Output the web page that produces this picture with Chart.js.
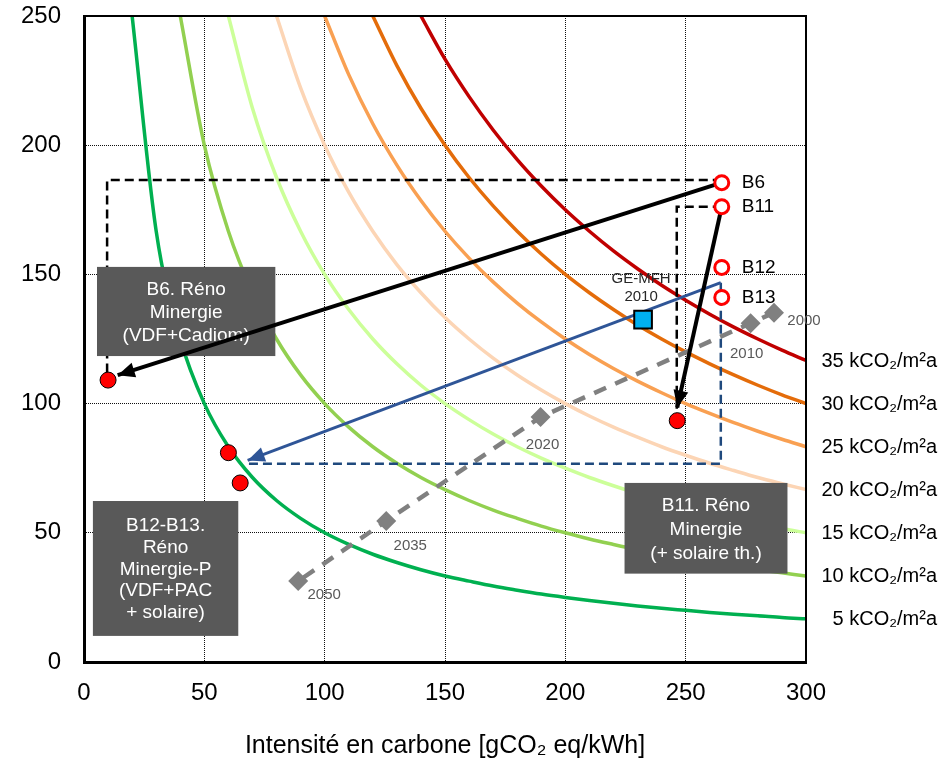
<!DOCTYPE html>
<html>
<head>
<meta charset="utf-8">
<script src="https://cdn.jsdelivr.net/npm/chart.js@4.4.0/dist/chart.umd.min.js"></script>
<style>
  html, body { margin: 0; padding: 0; background: #fff; }
  #wrap { width: 947px; height: 761px; }
</style>
</head>
<body>
<div id="wrap"><canvas id="carbonChart" width="947" height="761"></canvas></div>
<script>
// Isolignes kCO2/m2a (chaque série finit à x = 300)
const isoLevels = [5, 10, 15, 20, 25, 30, 35];
const isoX = [10, 20, 30, 40, 50, 60, 70, 80, 90, 100, 110, 120, 130, 140, 150,
              160, 170, 180, 190, 200, 210, 220, 230, 240, 250, 260, 270, 280, 290, 300];
const iso5 = [250, 166.7, 125, 100, 83.3, 71.4, 62.5, 55.6, 50, 45.5, 41.7, 38.5, 35.7, 33.3, 31.3,
              29.4, 27.8, 26.3, 25, 23.8, 22.7, 21.7, 20.8, 20, 19.2, 18.5, 17.9, 17.2, 16.7];
const iso10 = [250, 200, 166.7, 142.9, 125, 111.1, 100, 90.9, 83.3, 76.9, 71.4, 66.7, 62.5, 58.8,
               55.6, 52.6, 50, 47.6, 45.5, 43.5, 41.7, 40, 38.5, 37, 35.7, 34.5, 33.3];
const iso15 = [250, 214.3, 187.5, 166.7, 150, 136.4, 125, 115.4, 107.1, 100, 93.8, 88.2, 83.3,
               78.9, 75, 71.4, 68.2, 65.2, 62.5, 60, 57.7, 55.6, 53.6, 51.7, 50];
const iso20 = [250, 222.2, 200, 181.8, 166.7, 153.8, 142.9, 133.3, 125, 117.6, 111.1, 105.3, 100,
               95.2, 90.9, 87, 83.3, 80, 76.9, 74.1, 71.4, 69, 66.7];
const iso25 = [250, 227.3, 208.3, 192.3, 178.6, 166.7, 156.3, 147.1, 138.9, 131.6, 125, 119,
               113.6, 108.7, 104.2, 100, 96.2, 92.6, 89.3, 86.2, 83.3];
const iso30 = [250, 230.8, 214.3, 200, 187.5, 176.5, 166.7, 157.9, 150, 142.9, 136.4, 130.4, 125,
               120, 115.4, 111.1, 107.1, 103.4, 100];
const iso35 = [250, 233.3, 218.8, 205.9, 194.4, 184.2, 175, 166.7, 159.1, 152.2, 145.8, 140, 134.6,
               129.6, 125, 120.7, 116.7];
const isoCurves = [iso5, iso10, iso15, iso20, iso25, iso30, iso35];
const isoColors = ['#00b050', '#92d050', '#ccff99', '#fcd5b5', '#f9a052', '#e46c0a', '#c00000'];

// Bâtiments (état initial)
const bLabels = ['B6', 'B11', 'B12', 'B13'];
const bX = [265, 265, 265, 265];
const bY = [185.5, 176.2, 152.7, 141.1];

// Après rénovation
const renoX = [10, 246.5, 60, 64.9];
const renoY = [109.1, 93.4, 81, 69.3];

// GE-MFH 2010
const geX = [232.3];
const geY = [132.5];

// Trajectoire du mix électrique
const years = ['2000', '2010', '2020', '2035', '2050'];
const yearX = [286.7, 277, 189.7, 125.6, 89];
const yearY = [135.2, 131.1, 94.8, 54.6, 31.3];

// Guides pointillés et flèches (x, y)
const b6GuideX = [265, 9.6, 9.6];
const b6GuideY = [186.5, 186.5, 112];
const b11GuideX = [265, 246.3, 246.3];
const b11GuideY = [176.2, 176.2, 97.5];
const b12GuideX = [264.6, 264.6, 68];
const b12GuideY = [146.8, 76.7, 76.7];
const arrowB6 = [[265, 185.5], [14, 111]];
const arrowB11 = [[265, 176.2], [246.5, 98.5]];
const arrowB12 = [[264.6, 146.8], [68, 78]];

const yearLabelOffsets = [[30, 8], [-4, 31], [2, 28], [24, 25], [26, 14]];

const noteBoxes = [
    { x0: 5.4, x1: 79.5, y0: 152.9, y1: 118.4, lh: 23,
      lines: ['B6. Réno', 'Minergie', '(VDF+Cadiom)'] },
    { x0: 3.7, x1: 64.1, y0: 62.3, y1: 10.1, lh: 21.7,
      lines: ['B12-B13.', 'Réno', 'Minergie-P', '(VDF+PAC', '+ solaire)'] },
    { x0: 224.6, x1: 292.3, y0: 69.3, y1: 34.2, lh: 24,
      lines: ['B11. Réno', 'Minergie', '(+ solaire th.)'] }
];

const FAMILY = "'Liberation Sans', Arial, sans-serif";
const font = (size) => size + 'px ' + FAMILY;
const pts = (xs, ys) => xs.map((x, i) => ({ x: x, y: ys[i] }));

const datasets = [];
const isoIdx = [];
isoCurves.forEach((ys, i) => {
    const xs = isoX.slice(isoX.length - ys.length);
    isoIdx.push(datasets.length);
    datasets.push({
        data: pts(xs, ys), showLine: true, borderColor: isoColors[i], borderWidth: 3.5,
        pointRadius: 0, cubicInterpolationMode: 'monotone', order: 7
    });
});

const idxYears = datasets.length;
datasets.push({
    data: pts(yearX, yearY), showLine: true, borderColor: '#808080', borderWidth: 4.5,
    borderDash: [13, 10], pointStyle: 'rectRot', pointRadius: 10,
    pointBackgroundColor: '#808080', pointBorderWidth: 0, order: 6
});

[[b6GuideX, b6GuideY, '#000'], [b11GuideX, b11GuideY, '#000'], [b12GuideX, b12GuideY, '#1f497d']]
    .forEach(g => datasets.push({
        data: pts(g[0], g[1]), showLine: true, borderColor: g[2], borderWidth: 2.5,
        borderDash: [9, 5], pointRadius: 0, order: 5
    }));

[[arrowB6, '#000', 4], [arrowB11, '#000', 4], [arrowB12, '#2f5597', 3]]
    .forEach(a => datasets.push({
        data: a[0].map(p => ({ x: p[0], y: p[1] })), showLine: true, borderColor: a[1],
        borderWidth: a[2], pointRadius: 0, isArrow: true, order: 3
    }));

const idxGe = datasets.length;
datasets.push({
    data: pts(geX, geY), pointStyle: 'rect', pointRadius: 12.5,
    pointBackgroundColor: '#00b0f0', pointBorderColor: '#000', pointBorderWidth: 2, order: 2
});

datasets.push({
    data: pts(renoX, renoY), pointStyle: 'circle', pointRadius: 8,
    pointBackgroundColor: '#ff0000', pointBorderColor: '#000', pointBorderWidth: 1, order: 1
});

const idxB = datasets.length;
datasets.push({
    data: pts(bX, bY), pointStyle: 'circle', pointRadius: 7,
    pointBackgroundColor: '#fff', pointBorderColor: '#ff0000', pointBorderWidth: 3, order: 0
});

function drawNotes(chart) {
    const { ctx, scales: { x, y } } = chart;
    ctx.save();
    noteBoxes.forEach(b => {
        const left = x.getPixelForValue(b.x0), right = x.getPixelForValue(b.x1);
        const top = y.getPixelForValue(b.y0), bottom = y.getPixelForValue(b.y1);
        ctx.fillStyle = '#595959';
        ctx.fillRect(left, top, right - left, bottom - top);
        ctx.fillStyle = '#fff';
        ctx.font = font(19);
        ctx.textAlign = 'center';
        ctx.textBaseline = 'middle';
        const cx = (left + right) / 2, cy = (top + bottom) / 2 + 1;
        b.lines.forEach((t, i) => ctx.fillText(t, cx, cy + (i - (b.lines.length - 1) / 2) * b.lh));
    });
    ctx.restore();
}

function drawArrowHead(ctx, meta, color) {
    const p = meta.data;
    const a = p[p.length - 2], b = p[p.length - 1];
    const ang = Math.atan2(b.y - a.y, b.x - a.x);
    const len = 17, half = 7.5;
    const bx = b.x - len * Math.cos(ang), by = b.y - len * Math.sin(ang);
    ctx.save();
    ctx.fillStyle = color;
    ctx.beginPath();
    ctx.moveTo(b.x, b.y);
    ctx.lineTo(bx + half * Math.sin(ang), by - half * Math.cos(ang));
    ctx.lineTo(bx - half * Math.sin(ang), by + half * Math.cos(ang));
    ctx.closePath();
    ctx.fill();
    ctx.restore();
}

const overlayPlugin = {
    id: 'overlay',
    beforeDatasetsDraw(chart) { chart.$notesDrawn = false; },
    beforeDatasetDraw(chart, args) {
        const ds = chart.data.datasets[args.index];
        if (ds.isArrow && !chart.$notesDrawn) {
            drawNotes(chart);
            chart.$notesDrawn = true;
        }
    },
    afterDatasetDraw(chart, args) {
        const ds = chart.data.datasets[args.index];
        if (ds.isArrow) drawArrowHead(chart.ctx, args.meta, ds.borderColor);
    },
    afterDatasetsDraw(chart) {
        const { ctx, chartArea: a } = chart;
        ctx.save();
        // cadre haut et droite
        ctx.strokeStyle = '#000';
        ctx.lineWidth = 2;
        ctx.beginPath();
        ctx.moveTo(a.left, a.top);
        ctx.lineTo(a.right, a.top);
        ctx.lineTo(a.right, a.bottom);
        ctx.stroke();

        // étiquettes des isolignes
        ctx.fillStyle = '#000';
        ctx.font = font(20);
        ctx.textAlign = 'right';
        ctx.textBaseline = 'middle';
        isoIdx.forEach((di, i) => {
            const d = chart.getDatasetMeta(di).data;
            ctx.fillText(isoLevels[i] + ' kCO₂/m²a', a.right + 131, d[d.length - 1].y + 1);
        });

        // B6, B11...
        ctx.textAlign = 'left';
        ctx.font = font(19);
        chart.getDatasetMeta(idxB).data.forEach((p, i) => ctx.fillText(bLabels[i], p.x + 20, p.y));

        // années
        ctx.textAlign = 'center';
        ctx.font = font(15);
        ctx.fillStyle = '#595959';
        chart.getDatasetMeta(idxYears).data.forEach((p, i) =>
            ctx.fillText(years[i], p.x + yearLabelOffsets[i][0], p.y + yearLabelOffsets[i][1]));

        // GE-MFH
        const g = chart.getDatasetMeta(idxGe).data[0];
        ctx.fillStyle = '#262626';
        ctx.fillText('GE-MFH', g.x - 2, g.y - 41);
        ctx.fillText('2010', g.x - 2, g.y - 23);
        ctx.restore();
    }
};

function initCarbonChart() {
    const ctx = document.getElementById('carbonChart').getContext('2d');
    new Chart(ctx, {
        type: 'scatter',
        data: { datasets: datasets },
        options: {
            responsive: false,
            animation: false,
            events: [],
            layout: { padding: { top: 16, right: 141, bottom: 0, left: 0 } },
            plugins: { legend: { display: false }, tooltip: { enabled: false } },
            scales: {
                x: {
                    type: 'linear', min: 0, max: 300,
                    ticks: { stepSize: 50, padding: 17, color: '#000', font: { family: FAMILY, size: 24 } },
                    grid: { color: '#111', lineWidth: 1, drawTicks: false },
                    border: { display: true, color: '#000', width: 3, dash: [1, 1] },
                    title: {
                        display: true, text: 'Intensité en carbone [gCO₂ eq/kWh]', color: '#000',
                        font: { family: FAMILY, size: 25 }, padding: { top: 0, bottom: 0 }
                    },
                    afterFit: (scale) => {
                        scale.height = 99;
                        scale.paddingLeft = 0;
                        scale.paddingRight = 0;
                    }
                },
                y: {
                    type: 'linear', min: 0, max: 250,
                    ticks: { stepSize: 50, padding: 23, color: '#000', font: { family: FAMILY, size: 24 } },
                    grid: { color: '#111', lineWidth: 1, drawTicks: false },
                    border: { display: true, color: '#000', width: 3, dash: [1, 1] },
                    afterFit: (scale) => {
                        scale.width = 84;
                        scale.paddingTop = 0;
                        scale.paddingBottom = 0;
                    }
                }
            }
        },
        plugins: [overlayPlugin]
    });
}

window.onload = initCarbonChart;
</script>
</body>
</html>
